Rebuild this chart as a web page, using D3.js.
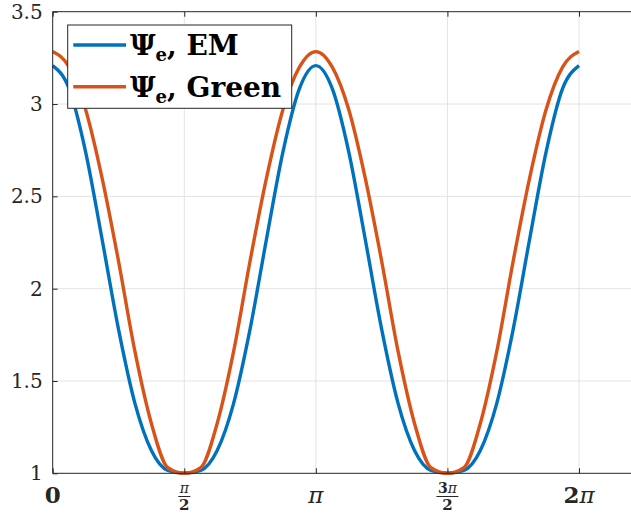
<!DOCTYPE html>
<html>
<head>
<meta charset="utf-8">
<script src="https://cdn.jsdelivr.net/npm/d3@7"></script>
<style>
  body { margin: 0; background: #fff; }
  svg { display: block; }
</style>
</head>
<body>
<svg width="631" height="519"></svg>
<script>
// angle samples, in steps of pi/16
var steps = d3.range(0, 33);
var emVals = [3.208, 3.083, 2.741, 2.269, 1.781, 1.379, 1.124, 1.016, 1.000,
              1.016, 1.124, 1.379, 1.781, 2.269, 2.741, 3.083, 3.208,
              3.083, 2.741, 2.269, 1.781, 1.379, 1.124, 1.016, 1.000,
              1.016, 1.124, 1.379, 1.781, 2.269, 2.741, 3.083, 3.208];
var greenVals = [3.284, 3.200, 2.970, 2.600, 2.150, 1.660, 1.270, 1.030, 1.000,
                 1.030, 1.270, 1.660, 2.150, 2.600, 2.970, 3.200, 3.284,
                 3.200, 2.970, 2.600, 2.150, 1.660, 1.270, 1.030, 1.000,
                 1.030, 1.270, 1.660, 2.150, 2.600, 2.970, 3.200, 3.284];
var yTicks = [1, 1.5, 2, 2.5, 3, 3.5];
var xTicks = [0, Math.PI / 2, Math.PI, 3 * Math.PI / 2, 2 * Math.PI];
var xTickLabels = [["0"], ["π", "2"], ["π"], ["3π", "2"], ["2π"]];
var seriesNames = ["EM", "Green"];
var colors = ["#0072BD", "#D95319"];

var svg = d3.select("svg"),
    pLeft = 52.7, pTop = 11.7, pBottom = 473.3, pRight = 631;

var x = d3.scaleLinear().domain([0, 2 * Math.PI]).range([pLeft, 579]);
var y = d3.scaleLinear().domain([1, 3.5]).range([pBottom, pTop]);

var axisCol = "#262626", gridCol = "#e3e3e3";

// grid
svg.append("g").selectAll("line")
    .data(yTicks.slice(1, -1))
    .enter().append("line")
      .attr("x1", pLeft).attr("x2", pRight)
      .attr("y1", function(d) { return y(d); })
      .attr("y2", function(d) { return y(d); })
      .attr("stroke", gridCol).attr("stroke-width", 1);
svg.append("g").selectAll("line")
    .data(xTicks.slice(1))
    .enter().append("line")
      .attr("x1", function(d) { return x(d); })
      .attr("x2", function(d) { return x(d); })
      .attr("y1", pTop).attr("y2", pBottom)
      .attr("stroke", gridCol).attr("stroke-width", 1);

// curves
var line = d3.line()
    .x(function(d) { return x(d.i * Math.PI / 16); })
    .y(function(d) { return y(d.v); })
    .curve(d3.curveMonotoneX);

[emVals, greenVals].forEach(function(vals, k) {
  svg.append("path")
      .datum(steps.map(function(i) { return {i: i, v: vals[i]}; }))
      .attr("fill", "none")
      .attr("stroke", colors[k])
      .attr("stroke-width", 3.4)
      .attr("stroke-linejoin", "round")
      .attr("d", line);
});

// axes
var yAxis = d3.axisLeft(y).tickValues(yTicks).tickSizeInner(-5).tickSizeOuter(0)
    .tickFormat(d3.format("~g")).tickPadding(10);
var yg = svg.append("g")
    .attr("transform", "translate(" + pLeft + ",0)")
    .call(yAxis);
yg.selectAll("text")
    .attr("font-family", "DejaVu Serif")
    .attr("font-size", 20)
    .attr("fill", axisCol);

svg.append("g")
    .attr("transform", "translate(0," + pBottom + ")")
    .call(d3.axisBottom(x).tickValues(xTicks).tickSizeInner(-5).tickSizeOuter(0).tickFormat(""));
svg.append("g")
    .attr("transform", "translate(0," + pTop + ")")
    .call(d3.axisTop(x).tickValues(xTicks).tickSizeInner(-5).tickSizeOuter(0).tickFormat(""));

svg.selectAll(".domain").remove();
svg.selectAll(".tick line").attr("stroke", axisCol);
svg.append("line").attr("x1", pLeft).attr("x2", pRight).attr("y1", pBottom).attr("y2", pBottom)
    .attr("stroke", axisCol);
svg.append("line").attr("x1", pLeft).attr("x2", pRight).attr("y1", pTop).attr("y2", pTop)
    .attr("stroke", axisCol);
svg.append("line").attr("x1", pLeft).attr("x2", pLeft).attr("y1", pTop).attr("y2", pBottom)
    .attr("stroke", axisCol);

// x tick labels (0, pi/2, pi, 3pi/2, 2pi)
var xl = svg.append("g")
    .attr("font-family", "DejaVu Serif")
    .attr("fill", axisCol)
    .attr("text-anchor", "middle")
  .selectAll("g")
  .data(xTicks)
  .enter().append("g")
    .attr("transform", function(d) { return "translate(" + x(d) + ",0)"; });

xl.each(function(d, i) {
  var g = d3.select(this), lab = xTickLabels[i];
  function piText(sel, s) {
    s.split("").forEach(function(c) {
      sel.append("tspan")
        .attr("font-weight", c === "π" ? "normal" : "bold")
        .attr("font-style", c === "π" ? "italic" : "normal")
        .text(c);
    });
  }
  if (lab.length === 1) {
    var t = g.append("text").attr("y", 503).attr("font-size", 23);
    piText(t, lab[0]);
  } else {
    var num = g.append("text").attr("y", 493).attr("font-size", 14);
    piText(num, lab[0]);
    var w = lab[0].length > 1 ? 11 : 6;
    g.append("line").attr("x1", -w).attr("x2", w).attr("y1", 496.5).attr("y2", 496.5)
      .attr("stroke", axisCol).attr("stroke-width", 1);
    g.append("text").attr("y", 510).attr("font-size", 15).attr("font-weight", "bold")
      .text(lab[1]);
  }
});

// legend
var legend = svg.append("g");
legend.append("rect")
    .attr("x", 67.7).attr("y", 25)
    .attr("width", 224).attr("height", 83.3)
    .attr("fill", "#fff")
    .attr("stroke", axisCol).attr("stroke-width", 1);
var item = legend.selectAll("g")
    .data(seriesNames)
    .enter().append("g")
      .attr("transform", function(d, i) { return "translate(0," + (45 + i * 41.7) + ")"; });
item.append("line")
    .attr("x1", 73.3).attr("x2", 126)
    .attr("stroke", function(d, i) { return colors[i]; })
    .attr("stroke-width", 3.4);
var lt = item.append("text")
    .attr("x", 130).attr("y", 10)
    .attr("font-family", "DejaVu Serif")
    .attr("font-weight", "bold")
    .attr("font-size", 28)
    .attr("fill", "#000");
lt.append("tspan").text("Ψ");
lt.append("tspan").attr("font-size", 18).attr("dy", 6).text("e");
lt.append("tspan").attr("dy", -6).text(", ");
lt.append("tspan").text(function(d) { return d; });
</script>
</body>
</html>
